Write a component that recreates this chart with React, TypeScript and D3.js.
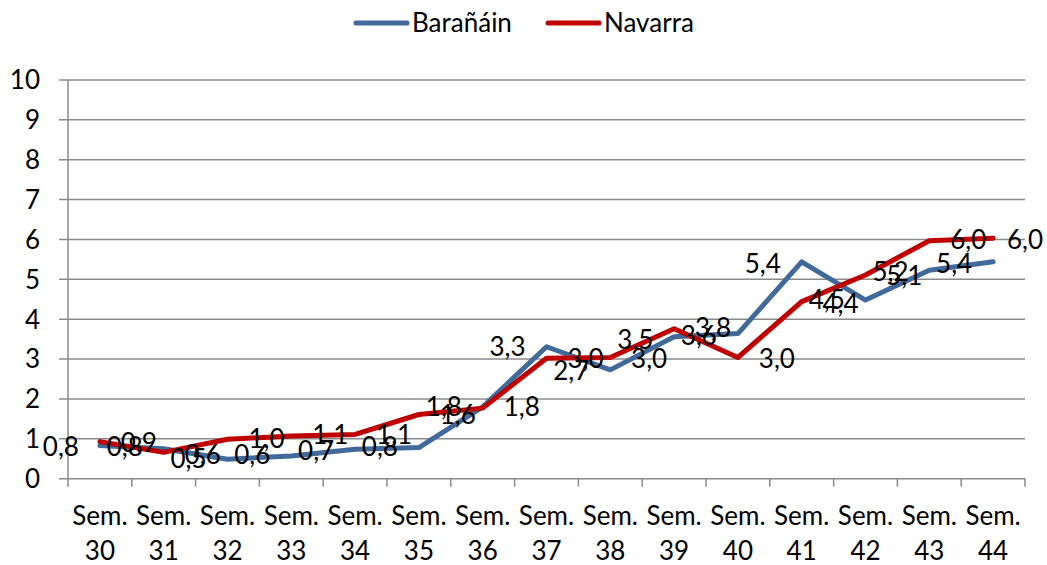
import React from 'react';
import * as d3 from 'd3';

// weekly values as drawn by the lines
const weeks = ['30', '31', '32', '33', '34', '35', '36', '37', '38', '39', '40', '41', '42', '43', '44'];
const barananValues = [0.83, 0.75, 0.49, 0.57, 0.74, 0.78, 1.8, 3.31, 2.73, 3.56, 3.64, 5.44, 4.48, 5.23, 5.44];
const navarraValues = [0.93, 0.66, 0.99, 1.07, 1.11, 1.61, 1.77, 3.02, 3.04, 3.76, 3.04, 4.44, 5.11, 5.97, 6.03];

// data labels as printed on the chart
const barananLabels = [0.8, 0.8, 0.5, 0.6, 0.7, 0.8, 1.6, 3.3, 2.7, 3.0, 3.6, 5.4, 4.4, 5.1, 5.4];
const navarraLabels = [0.9, 0.6, 1.0, 1.1, 1.1, 1.8, 1.8, 3.0, 3.5, 3.8, 3.0, 4.5, 5.2, 6.0, 6.0];

// weeks whose label sits closer to its point (crowded spots)
const barananTight = ['36', '39', '42', '43'];
const navarraTight = ['35', '38', '41', '42'];

const yTicks = [0, 1, 2, 3, 4, 5, 6, 7, 8, 9, 10];

const BLUE = '#41699a';
const RED = '#c00000';
const GRID = '#8a8a8a';
const FONT = 'Lato, "Open Sans", sans-serif';

export default function App() {
  const width = 1047;
  const height = 565;
  const plot = { left: 68, right: 1025, top: 80, bottom: 478.7 };

  const x = d3.scaleBand().domain(weeks).range([plot.left, plot.right]);
  const y = d3.scaleLinear().domain([0, 10]).range([plot.bottom, plot.top]);
  const cx = (w: string) => (x(w) as number) + x.bandwidth() / 2;

  const line = d3.line<number>()
    .x((_, i) => cx(weeks[i]))
    .y(d => y(d));

  const fmt = (v: number) => v.toFixed(1).replace('.', ',');
  const fontSize = 26;

  const series = [
    { name: 'Barañáin', values: barananValues, labels: barananLabels, tight: barananTight, color: BLUE, dir: -1 },
    { name: 'Navarra', values: navarraValues, labels: navarraLabels, tight: navarraTight, color: RED, dir: 1 },
  ];

  return (
    <svg width={width} height={height} style={{ position: 'absolute', left: 0, top: 0, background: '#fff' }}
      fontFamily={FONT} fontSize={fontSize}>
      {/* gridlines + y axis labels */}
      {yTicks.map(t => (
        <g key={t}>
          <line x1={59} x2={plot.right} y1={y(t)} y2={y(t)} stroke={GRID} strokeWidth={1.5} />
          <text x={40} y={y(t)} dy="0.36em" textAnchor="end" fill="#000">{t}</text>
        </g>
      ))}
      <line x1={plot.left} x2={plot.left} y1={plot.top} y2={plot.bottom} stroke={GRID} strokeWidth={1.5} />

      {/* x ticks */}
      {[...weeks.map(w => x(w) as number), plot.right].map((px, i) => (
        <line key={i} x1={px} x2={px} y1={plot.bottom} y2={plot.bottom + 8} stroke={GRID} strokeWidth={1.5} />
      ))}
      {weeks.map(w => (
        <text key={w} x={cx(w)} textAnchor="middle" fill="#000">
          <tspan x={cx(w)} y={525}>Sem.</tspan>
          <tspan x={cx(w)} y={560}>{w}</tspan>
        </text>
      ))}

      {/* lines */}
      {series.map(s => (
        <path key={s.name} d={line(s.values) || ''} fill="none" stroke={s.color} strokeWidth={5}
          strokeLinejoin="round" strokeLinecap="round" />
      ))}

      {/* data labels */}
      {series.map(s => s.labels.map((v, i) => {
        const off = s.tight.includes(weeks[i]) ? 25 : 39;
        const lx = Math.min(cx(weeks[i]) + s.dir * off, width - 22);
        return (
          <text key={s.name + i} x={lx} y={y(v)} dy="0.36em" textAnchor="middle" fill="#000">
            {fmt(v)}
          </text>
        );
      }))}

      {/* legend */}
      <g>
        <line x1={356} x2={407} y1={23} y2={23} stroke={BLUE} strokeWidth={5} strokeLinecap="round" />
        <text x={412} y={23} dy="0.36em" fill="#000">Barañáin</text>
        <line x1={548} x2={599} y1={23} y2={23} stroke={RED} strokeWidth={5} strokeLinecap="round" />
        <text x={604} y={23} dy="0.36em" fill="#000">Navarra</text>
      </g>
    </svg>
  );
}
